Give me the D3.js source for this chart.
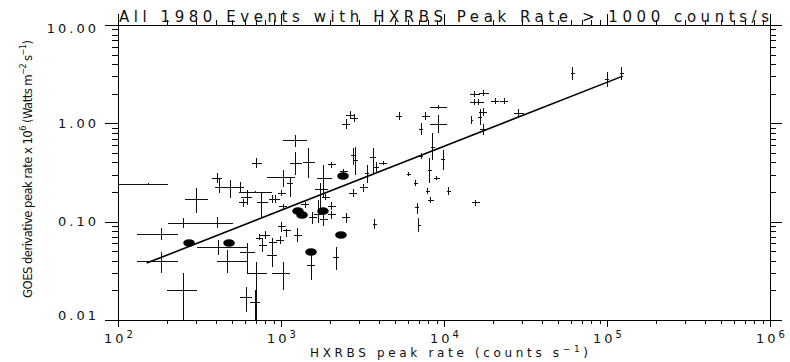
<!DOCTYPE html>
<html>
<head>
<meta charset="utf-8">
<script src="https://cdn.jsdelivr.net/npm/d3@7/dist/d3.min.js"></script>
<style>
  body { margin: 0; background: #fff; }
  svg text { fill: #111; }
</style>
</head>
<body>
<svg id="chart" width="790" height="362"></svg>
<script>
// HXRBS peak rate (counts/s) with its error range
hxrbsRate = [
  153, 305, 405, 417, 487, 561, 619, 585, 764, 693,
  893, 1014, 1029, 1136, 1236, 712, 1236, 1485, 1835, 2055,
  2435, 2766, 2884, 3668, 3827, 3370, 4226, 1735, 1888, 2055,
  2505, 1404, 1571, 1029, 931, 1014, 798, 733, 775, 893,
  986, 1271, 1088, 1687, 1835, 2055, 3773, 6829, 7024, 254,
  405, 184, 184, 254, 411, 467, 619, 712, 610, 693,
  881, 1029, 1549, 2175, 2651, 2805, 2505, 5297, 7754, 7228,
  15490, 17590, 15490, 16390, 20560, 23340, 9317, 9317, 17350, 16630,
  14850, 28840, 17590, 8558, 9860, 8204, 7228, 6099, 6733, 9057,
  7976, 10730, 8321, 15710, 61850, 100000, 123600, 3229, 2766];
hxrbsLo = [
  100, 258, 377, 394, 441, 530, 568, 553, 713, 553,
  843, 959, 820, 1088, 1029, 664, 1136, 1365, 1663, 1942,
  2301, 2689, 2805, 3516, 3668, 3276, 3993, 1617, 1784, 1942,
  2367, 1327, 1485, 972, 881, 959, 743, 702, 733, 843,
  932, 1202, 1029, 1594, 1735, 1942, 3668, 6637, 6926, 203,
  318, 131, 131, 200, 305, 405, 561, 619, 561, 645,
  820, 881, 1444, 2084, 2505, 2651, 2367, 5076, 7328, 7024,
  14440, 16390, 14440, 15280, 19420, 22070, 8204, 8204, 16390, 16160,
  14650, 26890, 16630, 8321, 9585, 7976, 7024, 5929, 6546, 8681,
  7754, 10430, 7976, 14850, 60140, 97200, 120200, 3053, 2614];
hxrbsHi = [
  203, 357, 435, 441, 537, 593, 664, 619, 832, 881,
  945, 1073, 1219, 1185, 1444, 764, 1346, 1617, 2055, 2175,
  2576, 2844, 2968, 3827, 3993, 3467, 4470, 1942, 1998, 2175,
  2651, 1485, 1663, 1088, 986, 1073, 856, 764, 820, 945,
  1043, 1346, 1152, 1784, 1942, 2175, 3882, 7024, 7228, 328,
  508, 233, 233, 305, 619, 619, 693, 820, 664, 743,
  945, 1136, 1617, 2269, 2805, 2968, 2651, 5526, 8204, 7434,
  16630, 18880, 16630, 17590, 21750, 24710, 10430, 10430, 18350, 17100,
  15070, 30970, 18620, 8804, 10140, 8439, 7434, 6274, 6926, 9452,
  8204, 11040, 8681, 16630, 63630, 102900, 127100, 3418, 2926];

// GOES derivative peak rate x 1e6 (W m^-2 s^-1) with its error range
goesPeak = [
  0.241, 0.170, 0.278, 0.225, 0.220, 0.225, 0.178, 0.155, 0.158, 0.200,
  0.170, 0.195, 0.284, 0.247, 0.676, 0.395, 0.395, 0.404, 0.278, 0.377,
  0.320, 0.476, 0.423, 0.454, 0.359, 0.312, 0.395, 0.210, 0.178, 0.144,
  0.109, 0.148, 0.109, 0.141, 0.170, 0.0902, 0.0731, 0.0681, 0.0578, 0.0620,
  0.0650, 0.0731, 0.0821, 0.117, 0.104, 0.117, 0.0945, 0.138, 0.0923, 0.0968,
  0.0968, 0.0748, 0.0397, 0.0201, 0.0551, 0.0397, 0.0491, 0.0300, 0.0171, 0.0152,
  0.0457, 0.0300, 0.0362, 0.0436, 1.214, 1.132, 0.984, 1.187, 1.187, 0.875,
  1.987, 2.033, 1.647, 1.647, 1.686, 1.686, 1.465, 0.984, 1.303, 1.159,
  1.080, 1.273, 0.875, 0.574, 0.433, 0.335, 0.465, 0.305, 0.247, 0.278,
  0.205, 0.205, 0.166, 0.155, 3.249, 2.823, 3.249, 0.220, 0.195];
goesLo = [
  0.236, 0.122, 0.247, 0.195, 0.174, 0.195, 0.148, 0.141, 0.109, 0.195,
  0.155, 0.182, 0.225, 0.178, 0.574, 0.351, 0.298, 0.278, 0.178, 0.351,
  0.298, 0.377, 0.298, 0.312, 0.320, 0.247, 0.377, 0.131, 0.166, 0.131,
  0.0968, 0.138, 0.0945, 0.131, 0.155, 0.0784, 0.0665, 0.0650, 0.0491, 0.0565,
  0.0592, 0.0620, 0.0697, 0.0968, 0.0902, 0.106, 0.0841, 0.120, 0.0784, 0.0861,
  0.0861, 0.0650, 0.0300, 0.0100, 0.0457, 0.0300, 0.0300, 0.0100, 0.0120, 0.0100,
  0.0345, 0.0201, 0.0255, 0.0322, 1.106, 1.031, 0.875, 1.080, 1.080, 0.760,
  1.851, 1.895, 1.535, 1.535, 1.572, 1.572, 1.398, 0.797, 1.187, 0.961,
  0.984, 1.159, 0.760, 0.423, 0.335, 0.247, 0.433, 0.291, 0.230, 0.265,
  0.191, 0.186, 0.155, 0.144, 2.757, 2.340, 2.757, 0.200, 0.178];
goesHi = [
  0.247, 0.220, 0.312, 0.271, 0.265, 0.253, 0.210, 0.170, 0.200, 0.205,
  0.186, 0.210, 0.335, 0.278, 0.760, 0.444, 0.511, 0.561, 0.377, 0.404,
  0.343, 0.561, 0.574, 0.561, 0.404, 0.377, 0.414, 0.247, 0.191, 0.158,
  0.122, 0.158, 0.125, 0.151, 0.186, 0.0991, 0.0802, 0.0748, 0.0681, 0.0681,
  0.0714, 0.0861, 0.0841, 0.166, 0.120, 0.128, 0.106, 0.155, 0.109, 0.109,
  0.111, 0.0861, 0.0491, 0.0300, 0.0650, 0.0514, 0.0606, 0.0388, 0.0216, 0.0201,
  0.0578, 0.0388, 0.0491, 0.0551, 1.334, 1.243, 1.106, 1.303, 1.303, 1.007,
  2.131, 2.182, 1.767, 1.767, 1.809, 1.809, 1.535, 1.214, 1.431, 1.398,
  1.187, 1.398, 0.984, 0.797, 0.535, 0.444, 0.499, 0.320, 0.265, 0.291,
  0.220, 0.225, 0.178, 0.166, 3.739, 3.326, 3.739, 0.241, 0.215];

// events drawn as filled dots
markedRate = [273, 480, 1271, 1346, 1810, 2333, 1528, 2401];
markedGoes = [0.0606, 0.0606, 0.128, 0.117, 0.128, 0.0731, 0.0491, 0.291];

// power law fit: log10(goes) = fitIntercept + fitSlope * log10(rate)
fitSlope = 0.651;
fitIntercept = -2.838;
fitRange = [150, 125000];

xTickPowers = [2, 3, 4, 5, 6];
yTickValues = [0.01, 0.1, 1, 10];
yTickLabels = ["0.01", "0.10", "1.00", "10.00"];

titleText = "All 1980 Events with HXRBS Peak Rate > 1000 counts/s";

const thinFont = "DejaVu Sans ExtraLight, DejaVu Sans, sans-serif";

let svg = d3.select("#chart");
let x = d3.scaleLog().domain([1e2, 1e6]).range([118, 770]);
let y = d3.scaleLog().domain([1e-2, 10]).range([320, 25]);
let [x0, x1] = x.range(), [y0, y1] = y.range();

function minorTicks(lo, hi) {
  let t = [];
  for (let e = lo; e < hi; e++)
    for (let m = 2; m <= 9; m++) t.push(m * Math.pow(10, e));
  return t;
}
let xMajor = xTickPowers.map(p => Math.pow(10, p));
let xMinor = minorTicks(2, 6);
let yMinor = minorTicks(-2, 1);

function plain(g) {
  g.select(".domain").remove();
  g.selectAll("line").attr("stroke", "#000").attr("shape-rendering", "crispEdges");
  g.attr("font-family", thinFont);
}

// frame
svg.append("rect").attr("x", x0).attr("y", y1).attr("width", x1 - x0).attr("height", y0 - y1)
  .attr("fill", "none").attr("stroke", "#000").attr("shape-rendering", "crispEdges");

// left axis
svg.append("g").attr("transform", `translate(${x0},0)`)
  .call(d3.axisLeft(y).tickValues(yMinor).tickSize(6).tickFormat("")).call(plain);
let yAx = svg.append("g").attr("transform", `translate(${x0},0)`)
  .call(d3.axisLeft(y).tickValues(yTickValues).tickSize(13).tickPadding(6)
    .tickFormat((d, i) => yTickLabels[i])).call(plain);
yAx.selectAll("text").attr("font-size", 13).attr("fill", "#111")
  .style("letter-spacing", "3px")
  .attr("dy", (d, i) => i == 0 ? "-0.05em" : (i == yTickValues.length - 1 ? "0.6em" : "0.32em"));

// right axis
svg.append("g").attr("transform", `translate(${x1},0)`)
  .call(d3.axisRight(y).tickValues(yMinor).tickSize(6).tickFormat("")).call(plain);
svg.append("g").attr("transform", `translate(${x1},0)`)
  .call(d3.axisRight(y).tickValues(yTickValues).tickSize(12).tickFormat("")).call(plain);

// top axis
svg.append("g").attr("transform", `translate(0,${y1})`)
  .call(d3.axisTop(x).tickValues(xMinor).tickSize(5).tickFormat("")).call(plain);
svg.append("g").attr("transform", `translate(0,${y1})`)
  .call(d3.axisTop(x).tickValues(xMajor).tickSize(11).tickFormat("")).call(plain);

// bottom axis
svg.append("g").attr("transform", `translate(0,${y0})`)
  .call(d3.axisBottom(x).tickValues(xMinor).tickSize(4).tickFormat("")).call(plain);
svg.append("g").attr("transform", `translate(0,${y0})`)
  .call(d3.axisBottom(x).tickValues(xMajor).tickSize(7).tickFormat("")).call(plain);

let xl = svg.append("g").attr("font-family", thinFont)
  .selectAll("text").data(xTickPowers).join("text")
  .attr("x", d => x(Math.pow(10, d)) + 2).attr("y", 343)
  .attr("text-anchor", "middle").attr("font-size", 13).style("letter-spacing", "3px");
xl.append("tspan").text("10");
xl.append("tspan").attr("dy", -5).attr("font-size", 10).text(d => d);

// error bars
let idx = d3.range(hxrbsRate.length);
let bars = svg.append("g").attr("stroke", "#111").attr("stroke-width", 1)
  .attr("shape-rendering", "crispEdges");
bars.selectAll(".xerr").data(idx).join("line").attr("class", "xerr")
  .attr("x1", i => x(hxrbsLo[i])).attr("x2", i => x(hxrbsHi[i]))
  .attr("y1", i => y(goesPeak[i])).attr("y2", i => y(goesPeak[i]));
bars.selectAll(".yerr").data(idx).join("line").attr("class", "yerr")
  .attr("x1", i => x(hxrbsRate[i])).attr("x2", i => x(hxrbsRate[i]))
  .attr("y1", i => y(goesLo[i])).attr("y2", i => y(goesHi[i]));

// fit line
let fit = d3.line().x(d => x(d)).y(d => y(Math.pow(10, fitIntercept + fitSlope * Math.log10(d))));
svg.append("path").datum(fitRange).attr("d", fit)
  .attr("fill", "none").attr("stroke", "#000").attr("stroke-width", 1.6);

// marked events
svg.append("g").selectAll("ellipse").data(markedRate).join("ellipse")
  .attr("cx", d => x(d)).attr("cy", (d, i) => y(markedGoes[i]))
  .attr("rx", 5.8).attr("ry", 3.8).attr("fill", "#000");

// title
svg.append("text").attr("x", (x0 + x1) / 2).attr("y", 22).attr("text-anchor", "middle")
  .attr("font-family", thinFont).attr("font-size", 15)
  .attr("textLength", 650).attr("lengthAdjust", "spacing").text(titleText);

// x axis title
let xt = svg.append("text").attr("x", 449).attr("y", 357).attr("text-anchor", "middle")
  .attr("font-family", thinFont).attr("font-size", 12)
  .attr("textLength", 278).attr("lengthAdjust", "spacing");
xt.append("tspan").text("HXRBS peak rate (counts s");
xt.append("tspan").attr("dy", -5).attr("font-size", 9).text("\u22121");
xt.append("tspan").attr("dy", 5).text(")");

// y axis title
let yt = svg.append("text").attr("transform", "translate(32,169) rotate(-90)")
  .attr("text-anchor", "middle")
  .attr("font-family", "Liberation Sans Narrow, DejaVu Sans Condensed, sans-serif")
  .attr("font-size", 13).attr("textLength", 258).attr("lengthAdjust", "spacing");
yt.append("tspan").text("GOES derivative peak rate x 10");
yt.append("tspan").attr("dy", -6).attr("font-size", 9).text("6");
yt.append("tspan").attr("dy", 6).text(" (Watts m");
yt.append("tspan").attr("dy", -6).attr("font-size", 9).text("\u22122");
yt.append("tspan").attr("dy", 6).text(" s");
yt.append("tspan").attr("dy", -6).attr("font-size", 9).text("\u22121");
yt.append("tspan").attr("dy", 6).text(")");
</script>
</body>
</html>
